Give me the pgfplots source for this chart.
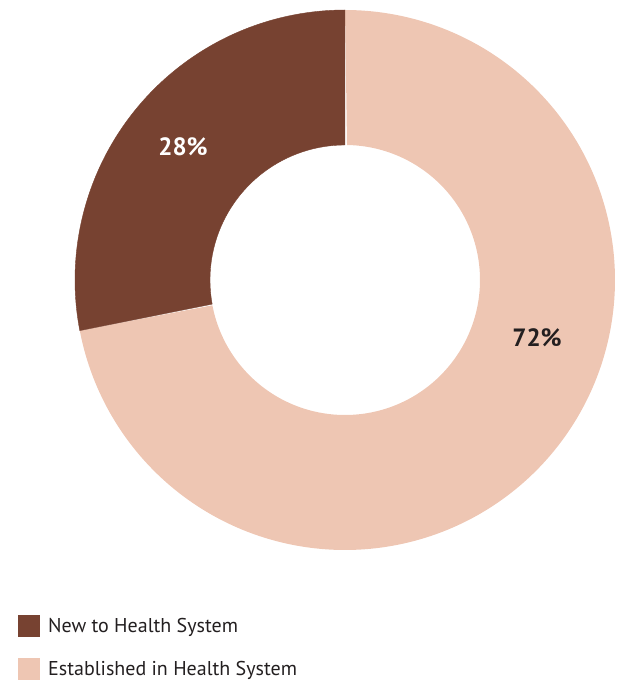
\documentclass[border=0pt]{standalone}
\usepackage{fontspec}
\setmainfont{PT Sans}
\usepackage{pgfplots}
\pgfplotsset{compat=1.18}
\definecolor{darkbrown}{HTML}{774231}
\definecolor{lightpeach}{HTML}{EEC6B3}
\definecolor{txt}{HTML}{231F20}
% data (percent)
\def\valNew{28}
\def\valEst{72}
\pgfmathsetmacro{\aA}{90}
\pgfmathsetmacro{\aB}{90+3.6*\valNew}
\pgfmathsetmacro{\aC}{\aB+3.6*\valEst}
\begin{document}
\begin{tikzpicture}
\begin{axis}[
  width=618pt, height=683pt, scale only axis,
  xmin=0, xmax=618, ymin=0, ymax=683,
  hide axis, clip=false,
  legend style={at={(axis cs:18,68)}, anchor=north west, draw=none, fill=none,
    font=\fontsize{20}{22}\selectfont\color{txt}, row sep=21pt,
    inner sep=0pt, nodes={inner sep=0pt}},
  legend cell align=left,
  legend image code/.code={\fill[#1] (0pt,-11pt) rectangle (22pt,11pt); \path (30pt,0pt);},
]
\path (axis cs:0,0) rectangle (axis cs:618,683);
\addlegendimage{fill=darkbrown, draw=none}
\addlegendentry{New to Health System}
\addlegendimage{fill=lightpeach, draw=none}
\addlegendentry{Established in Health System}
% ring: t in [0,1] outer arc, t in (1,2] inner arc back
\addplot[fill=lightpeach, draw=none, domain=0:2, samples=601, variable=\t, forget plot]
  ({345 + (\t<=1 ? 270 : 135)*cos(\t<=1 ? \aB+(\aC-\aB)*\t : \aC-(\aC-\aB)*(\t-1))},
   {403 + (\t<=1 ? 270 : 135)*sin(\t<=1 ? \aB+(\aC-\aB)*\t : \aC-(\aC-\aB)*(\t-1))});
\addplot[fill=darkbrown, draw=darkbrown, line width=0.4pt, domain=0:2, samples=401, variable=\t, forget plot]
  ({345 + (\t<=1 ? 270 : 135)*cos(\t<=1 ? \aA+(\aB-\aA)*\t : \aB-(\aB-\aA)*(\t-1))},
   {403 + (\t<=1 ? 270 : 135)*sin(\t<=1 ? \aA+(\aB-\aA)*\t : \aB-(\aB-\aA)*(\t-1))});
\node[font=\fontsize{25}{27}\selectfont\bfseries, text=white] at (axis cs:183,536) {28\%};
\node[font=\fontsize{25}{27}\selectfont\bfseries, text=txt] at (axis cs:537,345) {72\%};
\end{axis}
\end{tikzpicture}
\end{document}
